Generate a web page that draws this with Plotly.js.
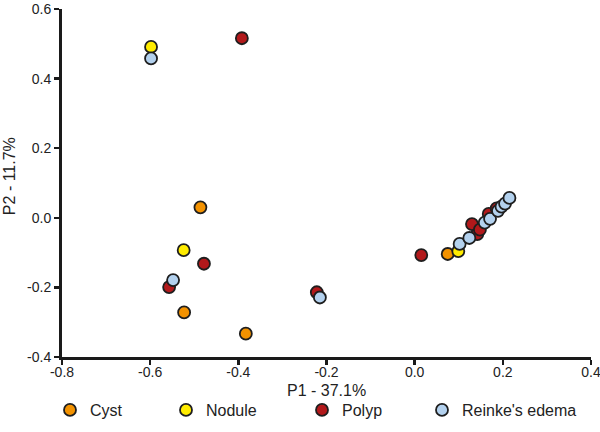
<!DOCTYPE html>
<html>
<head>
<meta charset="utf-8">
<script src="https://cdn.plot.ly/plotly-3.0.1.min.js"></script>
<style>
  html, body { margin: 0; padding: 0; background: #fff; }
  #myDiv { width: 600px; height: 432px; }
</style>
</head>
<body>
<div id="myDiv"></div>
<script>
// PCA scores
const cystX = [-0.486, -0.523, -0.383, 0.075];
const cystY = [0.030, -0.272, -0.333, -0.104];

const noduleX = [-0.598, -0.524, 0.099];
const noduleY = [0.491, -0.093, -0.096];

const polypX = [-0.392, -0.478, -0.557, -0.222, 0.015, 0.142, 0.130, 0.148, 0.168, 0.186];
const polypY = [0.516, -0.132, -0.199, -0.214, -0.107, -0.047, -0.018, -0.034, 0.011, 0.027];

const reinkeX = [-0.598, -0.548, -0.215, 0.102, 0.124, 0.159, 0.171, 0.189, 0.197, 0.205, 0.215];
const reinkeY = [0.458, -0.179, -0.229, -0.075, -0.058, -0.014, -0.003, 0.020, 0.032, 0.041, 0.057];

const groupNames = ['Cyst', 'Nodule', 'Polyp', "Reinke's edema"];
const groupColors = ['#f39200', '#ffec00', '#b2191b', '#b3d1ee'];

const xTicks = [-0.8, -0.6, -0.4, -0.2, 0.0, 0.2, 0.4];
const xTickText = ['-0.8', '-0.6', '-0.4', '-0.2', '0.0', '0.2', '0.4'];
const yTicks = [-0.4, -0.2, 0.0, 0.2, 0.4, 0.6];
const yTickText = ['-0.4', '-0.2', '0.0', '0.2', '0.4', '0.6'];

const xTitle = 'P1 - 37.1%';
const yTitle = 'P2 - 11.7%';

// one legend box per group so each entry sits where the original has it
const legendIds = ['legend', 'legend2', 'legend3', 'legend4'];
const legendLeft = [50, 166, 302, 422];

const makeTrace = (i, x, y) => {
  return {
    x: x,
    y: y,
    name: groupNames[i],
    legend: legendIds[i],
    type: 'scatter',
    mode: 'markers',
    marker: {
      size: 12,
      color: groupColors[i],
      line: { color: '#1e1e1e', width: 1.8 },
    },
    cliponaxis: false,
  };
};

const data = [
  makeTrace(0, cystX, cystY),
  makeTrace(1, noduleX, noduleY),
  makeTrace(2, polypX, polypY),
  makeTrace(3, reinkeX, reinkeY),
];

const axisStyle = {
  showgrid: false,
  zeroline: false,
  showline: true,
  linecolor: '#1a1a1a',
  linewidth: 3,
  ticks: 'outside',
  ticklen: 5,
  tickwidth: 2.5,
  tickcolor: '#1a1a1a',
  tickfont: { size: 14, color: '#222' },
  tickmode: 'array',
  ticklabeloverflow: 'allow',
  fixedrange: true,
};

const layout = {
  width: 600,
  height: 432,
  margin: { l: 62, r: 9, t: 9, b: 75 },
  paper_bgcolor: '#fff',
  plot_bgcolor: '#fff',
  font: { family: 'Liberation Sans, Arial, sans-serif', color: '#222' },
  showlegend: true,
  xaxis: {
    ...axisStyle,
    range: [-0.8, 0.4],
    tickvals: xTicks,
    ticktext: xTickText,
    ticklabelstandoff: -5,
  },
  yaxis: {
    ...axisStyle,
    range: [-0.4, 0.6],
    tickvals: yTicks,
    ticktext: yTickText,
  },
  annotations: [
    {
      text: xTitle,
      xref: 'paper', yref: 'paper',
      x: 0.5, y: -0.097,
      xanchor: 'center', yanchor: 'middle',
      showarrow: false,
      font: { size: 16, color: '#222' },
    },
    {
      text: yTitle,
      xref: 'paper', yref: 'paper',
      x: -0.1, y: 0.52,
      xanchor: 'center', yanchor: 'middle',
      textangle: -90,
      showarrow: false,
      font: { size: 16, color: '#222' },
    },
  ],
};

legendIds.forEach((id, i) => {
  layout[id] = {
    orientation: 'h',
    xref: 'container',
    yref: 'container',
    x: legendLeft[i] / 600,
    xanchor: 'left',
    y: 1 - 410 / 432,
    yanchor: 'middle',
    font: { size: 16, color: '#222' },
    bgcolor: 'rgba(0,0,0,0)',
  };
});

Plotly.newPlot('myDiv', data, layout, { displayModeBar: false, staticPlot: true });
</script>
</body>
</html>
